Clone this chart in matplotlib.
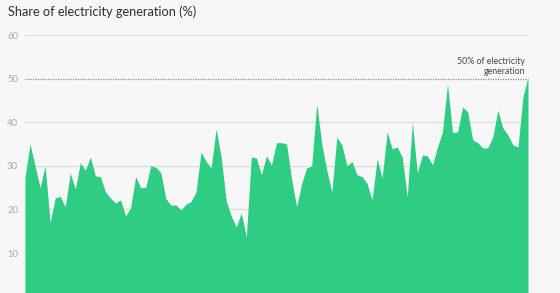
import matplotlib.pyplot as plt
import numpy as np

# share of electricity generation (%), one value per period
share = [27.5, 35, 30, 25, 30, 17, 22.6, 23, 20.6, 28.4,
         24.7, 30.7, 29, 32, 27.7, 27.5, 24, 22.6, 21.5, 22.2,
         18.5, 20.4, 27.5, 25, 25, 30, 29.7, 28.4, 22.5, 21,
         21, 19.9, 21.2, 21.8, 24, 33.2, 31, 29.5, 38.5, 32,
         22, 18.5, 16, 19.2, 13.7, 32, 31.8, 28, 32.3, 30.2,
         35.3, 35.3, 35, 27, 20.6, 26, 29.5, 30, 44.2, 35,
         29, 24, 36.6, 34.8, 30, 31, 28, 27.5, 26, 22.2,
         31.6, 27.2, 37.8, 33.9, 34.3, 32, 22.9, 40, 28.4, 32.5,
         32.3, 30.2, 34.3, 37.8, 48.8, 37.6, 37.8, 43.5, 42.4, 36,
         35.3, 34.1, 34.1, 36.6, 42.8, 38.7, 37.1, 34.8, 34.3, 45.8,
         50.4]
yticks = [10, 20, 30, 40, 60]
threshold = 50

BG = '#f7f7f7'
GREEN = '#2fcc84'

fig = plt.figure(figsize=(5.6, 2.93), dpi=100, facecolor=BG)
ax = fig.add_axes([25/560, -3.7/293, 503/560, 261.7/293], facecolor=BG)

x = np.arange(len(share))
ax.fill_between(x, 0, share, color=GREEN, lw=0, zorder=2)
ax.set_xlim(0, len(share) - 1)
ax.set_ylim(0, 60)

for y in yticks:
    ax.axhline(y, color='#dcdcdc', lw=0.9, zorder=1)
ax.axhline(threshold, color='#8a8a8a', lw=0.9, ls=(0, (1, 1)), zorder=3)

ax.set_yticks(yticks + [threshold])
ax.set_yticklabels([str(v) for v in yticks + [threshold]])
ax.tick_params(axis='y', length=0, pad=5, labelsize=6.8, labelcolor='#a8a8a8')
ax.set_xticks([])
for s in ax.spines.values():
    s.set_visible(False)

for lbl in ax.get_yticklabels():
    lbl.set_fontfamily('Lato')

fig.text(8/560, 1 - 12/293, 'Share of electricity generation (%)',
         fontsize=9.2, color='#2e2e2e', family='Lato', va='center', ha='left')
ax.text(len(share) - 1.6, threshold + 0.6, '50% of electricity\ngeneration',
        fontsize=6.3, color='#444444', family='Lato', ha='right', va='bottom',
        linespacing=1.1)

fig.savefig('out.png', dpi=100, facecolor=BG)
